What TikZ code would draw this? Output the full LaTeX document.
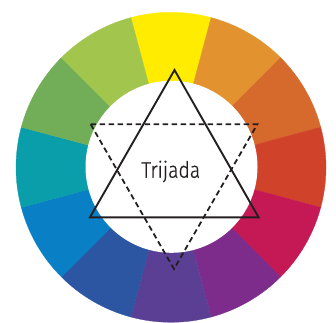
\documentclass[tikz,border=0pt]{standalone}
\usepackage{fontspec}
\newfontfamily\labelfont{Fira Sans Light}[FakeStretch=0.86,FakeBold=0.6]
\definecolor{cYel}{HTML}{FFEC00}
\definecolor{cYO}{HTML}{E2922F}
\definecolor{cOr}{HTML}{D6692C}
\definecolor{cRO}{HTML}{D0422A}
\definecolor{cCr}{HTML}{C41955}
\definecolor{cPu}{HTML}{7E2C8C}
\definecolor{cVi}{HTML}{5B3F95}
\definecolor{cDB}{HTML}{2C55A2}
\definecolor{cBl}{HTML}{0980C5}
\definecolor{cTe}{HTML}{0A9DAA}
\definecolor{cGr}{HTML}{72AE57}
\definecolor{cYG}{HTML}{A2C54E}
\definecolor{ink}{HTML}{231F20}
\begin{document}
\begin{tikzpicture}[x=1pt,y=1pt,
  seg/.style={fill=#1,draw=#1,line width=0.3pt},
  soltri/.style={draw=ink,line width=1.9pt,line join=miter},
  dashtri/.style={draw=ink,line width=1.8pt,line join=miter,dash pattern=on 5.5pt off 3.5pt},
  lbl/.style={font=\labelfont\fontsize{22.5}{24}\selectfont,text=ink,inner sep=0pt,anchor=base}]
\useasboundingbox (0,0) rectangle (336,322);
\coordinate (C) at (171,154.7);
\foreach \a/\c in {90/cYel,60/cYO,30/cOr,0/cRO,-30/cCr,-60/cPu,-90/cVi,-120/cDB,-150/cBl,180/cTe,150/cGr,120/cYG}{
  \path[seg=\c] (C) -- ++(\a-15:155) arc[start angle=\a-15,end angle=\a+15,radius=155] -- cycle;
}
\fill[white] (171.5,155.2) circle[radius=86];
\coordinate (sA) at (174.5,252);
\coordinate (sB) at (90,104.7);
\coordinate (sC) at (258.6,104.7);
\coordinate (dA) at (90.7,197.7);
\coordinate (dB) at (257.3,197.7);
\coordinate (dC) at (174,53);
\draw[dashtri] (dA) -- (dB) -- (dC) -- cycle;
\draw[soltri] (sA) -- (sB) -- (sC) -- cycle;
\node[lbl] (t) at (170.8,144.3) {Trijada};
\end{tikzpicture}
\end{document}
